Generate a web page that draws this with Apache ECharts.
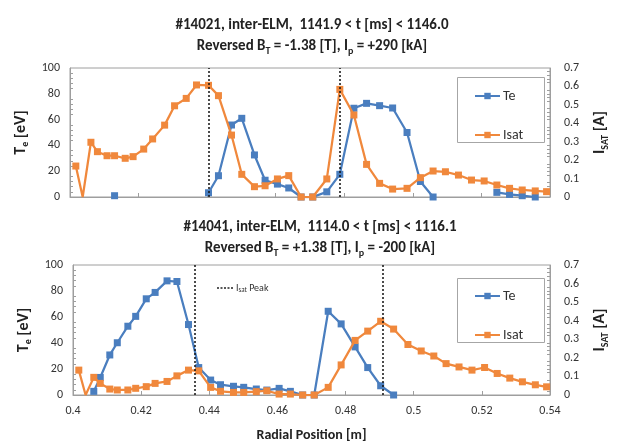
<!DOCTYPE html>
<html>
<head>
<meta charset="utf-8">
<script src="https://cdn.jsdelivr.net/npm/echarts@6/dist/echarts.min.js"></script>
<style>
html,body{margin:0;padding:0;background:#fff;}
#c{width:618px;height:443px;}
</style>
</head>
<body>
<div id="c"></div>
<script>
// Radial positions [m] (shared by both shots)
const radialPos = [0.4017, 0.4037, 0.4061, 0.4080, 0.4108, 0.4130, 0.4161, 0.4184, 0.4215, 0.4241,
  0.4276, 0.4305, 0.4339, 0.4369, 0.4404, 0.4433, 0.4471, 0.4501, 0.4538, 0.4569,
  0.4605, 0.4638, 0.4674, 0.4708, 0.4749, 0.4787, 0.4828, 0.4865, 0.4903, 0.4941,
  0.4983, 0.5022, 0.5059, 0.5095, 0.5133, 0.5171, 0.5208, 0.5245, 0.5282, 0.5319,
  0.5357, 0.5390];

// Shot #14021 (top)
const teTop = [null, null, null, null, null, 1, null, null, null, null,
  null, null, null, null, 3.3, 16.5, 55.8, 61, 32.6, 13,
  10, 7, 0, 0, 4, 17.6, 68.8, 72.6, 70.8, 69,
  50, 12, 0, null, null, null, null, 3.6, 2, 1,
  0, null];
const isatTop = [0.168, 0, 0.297, 0.246, 0.224, 0.224, 0.21, 0.219, 0.26, 0.315,
  0.39, 0.495, 0.535, 0.608, 0.606, 0.55, 0.336, 0.123, 0.056, 0.061,
  0.098, 0.116, 0, 0, 0.098, 0.584, 0.445, 0.177, 0.074, 0.043,
  0.047, 0.105, 0.141, 0.137, 0.119, 0.092, 0.087, 0.065, 0.047, 0.038,
  0.033, 0.029];
const peaksTop = [0.4404, 0.4786];

// Shot #14041 (bottom)
const teBot = [null, null, 2.8, 13.5, 30.8, 40.2, 52.9, 60.5, 74, 78.9,
  87.8, 87.3, 54.2, 21.1, 11.5, 7.9, 6.7, 5.9, 4.6, 3.8,
  5.1, 2.8, 0, 0, 64.4, 54.7, 37, 21.1, 7.1, 0,
  null, null, null, null, null, null, null, null, null, null,
  null, null];
const isatBot = [0.134, 0, 0.095, 0.0625, 0.032, 0.027, 0.027, 0.036, 0.045, 0.0625,
  0.073, 0.103, 0.134, 0.13, 0.041, 0.02, 0.014, 0.014, 0.018, 0.023,
  0.005, 0.005, 0, 0, 0.041, 0.162, 0.294, 0.344, 0.397, 0.355,
  0.272, 0.237, 0.21, 0.169, 0.151, 0.134, 0.148, 0.116, 0.091, 0.071,
  0.055, 0.044];
const peaksBot = [0.4356, 0.4910];

const noMarkerIdx = [1]; // points plotted without marker (empty cells shown as zero)

const BLUE = '#4a7ebf', ORANGE = '#f0883c';
const FONT = 'Carlito, Lato, "Liberation Sans", sans-serif';
const TXT = '#333333';

function pairs(vals, hideIdx) {
  return vals.map((v, i) => {
    const item = { value: [radialPos[i], v == null ? '-' : v] };
    if (hideIdx && hideIdx.indexOf(i) >= 0) item.symbol = 'none';
    return item;
  });
}

const chart = echarts.init(document.getElementById('c'), null, { renderer: 'canvas' });

function xAx(gi, showLabels) {
  return {
    type: 'value', gridIndex: gi, min: 0.4, max: 0.54, interval: 0.02,
    axisLine: { show: true, lineStyle: { color: '#9e9e9e', width: 1 } },
    axisTick: { show: true, inside: true, length: 4, lineStyle: { color: '#9e9e9e' } },
    splitLine: { show: false },
    axisLabel: { show: showLabels, color: TXT, fontSize: 12, fontFamily: FONT, margin: 10,
      formatter: v => String(+v.toFixed(2)) },
    name: showLabels ? 'Radial Position [m]' : '',
    nameLocation: 'middle', nameGap: 33,
    nameTextStyle: { color: '#222', fontSize: 14, fontWeight: 'bold', fontFamily: FONT }
  };
}
const nameRich = {
  n: { fontSize: 16, fontWeight: 'bold', color: '#222', fontFamily: FONT, lineHeight: 20, verticalAlign: 'middle' },
  s: { fontSize: 10, fontWeight: 'bold', color: '#222', fontFamily: FONT, lineHeight: 10, verticalAlign: 'bottom' }
};
function yLeft(gi) {
  return {
    type: 'value', gridIndex: gi, position: 'left', min: 0, max: 100, interval: 20,
    axisLine: { show: true, lineStyle: { color: '#9e9e9e' } },
    axisTick: { show: false, inside: true },
    minorTick: { show: true, splitNumber: 5, length: 3, lineStyle: { color: '#9e9e9e' } },
    splitLine: { show: false },
    axisLabel: { color: TXT, fontSize: 12, fontFamily: FONT, margin: 10 },
    name: '{n|T}{s|e}{n| [eV]}', nameLocation: 'middle', nameRotate: 90, nameGap: 38,
    nameTextStyle: { rich: nameRich }
  };
}
function yRight(gi) {
  return {
    type: 'value', gridIndex: gi, position: 'right', min: 0, max: 0.7, interval: 0.1,
    axisLine: { show: true, lineStyle: { color: '#9e9e9e' } },
    axisTick: { show: false, inside: true },
    minorTick: { show: true, splitNumber: 5, length: 3, lineStyle: { color: '#9e9e9e' } },
    splitLine: { show: false },
    axisLabel: { color: TXT, fontSize: 12, fontFamily: FONT, margin: 14,
      formatter: v => String(+v.toFixed(1)) },
    name: '{n|I}{s|SAT}{n| [A]}', nameLocation: 'middle', nameRotate: 90, nameGap: 40,
    nameTextStyle: { rich: nameRich }
  };
}

function lineSeries(name, xi, yi, vals, color, hide, peaks) {
  const s = {
    name: name, type: 'line', xAxisIndex: xi, yAxisIndex: yi,
    data: pairs(vals, hide), connectNulls: false,
    symbol: 'rect', symbolSize: 7, showAllSymbol: true,
    lineStyle: { color: color, width: 2.25 },
    itemStyle: { color: color },
    animation: false, z: name === 'Isat' ? 3 : 2
  };
  if (peaks) {
    s.markLine = {
      silent: true, precision: 5, symbol: ['none', 'none'], label: { show: false },
      lineStyle: { color: '#111', type: [2, 2], width: 1.5 },
      data: peaks.map(p => ({ xAxis: p })), animation: false
    };
  }
  return s;
}

function titleLines(cx, y1, y2, l1, bt, ip) {
  const rich = {
    b: { fontSize: 15, fontWeight: 'bold', fill: '#222', fontFamily: FONT, lineHeight: 20, verticalAlign: 'middle' },
    s: { fontSize: 10, fontWeight: 'bold', fill: '#222', fontFamily: FONT, lineHeight: 10, verticalAlign: 'bottom' }
  };
  return [
    { type: 'text', x: cx, y: y1, style: { text: l1, fontSize: 15, fontWeight: 'bold', fill: '#222', fontFamily: FONT, align: 'center', verticalAlign: 'middle' } },
    { type: 'text', x: cx, y: y2, style: { text: '{b|Reversed B}{s|T}{b| = ' + bt + ' [T], I}{s|p}{b| = ' + ip + ' [kA]}', rich: rich, align: 'center', verticalAlign: 'middle' } }
  ];
}

const graphics = [].concat(
  titleLines(312, 25, 46, '#14021, inter-ELM,  1141.9 < t [ms] < 1146.0', '-1.38', '+290'),
  titleLines(320, 227, 248, '#14041, inter-ELM,  1114.0 < t [ms] < 1116.1', '+1.38', '-200'),
  [
    { type: 'rect', shape: { x: 457.5, y: 77.5, width: 87, height: 65 }, style: { fill: '#fff', stroke: '#a6a6a6', lineWidth: 1 }, z: 10 },
    { type: 'rect', shape: { x: 457.5, y: 278.5, width: 87, height: 64 }, style: { fill: '#fff', stroke: '#a6a6a6', lineWidth: 1 }, z: 10 },
    { type: 'line', shape: { x1: 217, y1: 288, x2: 233, y2: 288 }, style: { stroke: '#222', lineWidth: 1.5, lineDash: [2, 1.5] } },
    { type: 'text', x: 236, y: 288, style: { text: '{n|I}{s|sat}{n| Peak}', align: 'left', verticalAlign: 'middle',
      rich: { n: { fontSize: 10, fill: '#333', fontFamily: FONT, lineHeight: 12, verticalAlign: 'middle' },
              s: { fontSize: 7, fill: '#333', fontFamily: FONT, lineHeight: 7, verticalAlign: 'bottom' } } } }
  ]
);

function legendAt(top) {
  return {
    data: ['Te', 'Isat'], orient: 'vertical', left: 474, top: top, padding: 0,
    itemWidth: 25, itemHeight: 8, itemGap: 25, selectedMode: false, z: 20,
    textStyle: { color: TXT, fontSize: 14, fontFamily: FONT, padding: [0, 0, 0, -2] }
  };
}

const option = {
  animation: false,
  backgroundColor: '#ffffff',
  grid: [
    { left: 70, top: 68, width: 491, height: 129, show: true, borderColor: '#9e9e9e', borderWidth: 1 },
    { left: 73, top: 265, width: 484, height: 131, show: true, borderColor: '#9e9e9e', borderWidth: 1 }
  ],
  xAxis: [xAx(0, false), xAx(1, true)],
  yAxis: [yLeft(0), yRight(0), yLeft(1), yRight(1)],
  legend: [legendAt(89), legendAt(289)],
  series: [
    lineSeries('Te', 0, 0, teTop, BLUE, null, null),
    lineSeries('Isat', 0, 1, isatTop, ORANGE, noMarkerIdx, peaksTop),
    lineSeries('Te', 1, 2, teBot, BLUE, null, null),
    lineSeries('Isat', 1, 3, isatBot, ORANGE, noMarkerIdx, peaksBot)
  ],
  graphic: graphics
};
chart.setOption(option);
</script>
</body>
</html>
